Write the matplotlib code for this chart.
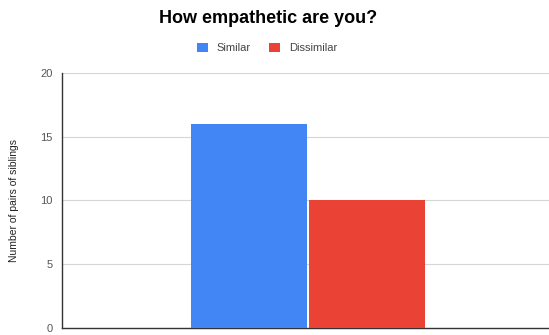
import matplotlib
matplotlib.use("Agg")
import matplotlib.pyplot as plt
import numpy as np

plt.rcParams["font.family"] = ["Liberation Sans", "DejaVu Sans"]

# counts of sibling pairs per group
series_names = ["Similar", "Dissimilar"]
series_values = [16, 10]
series_colors = ["#4285F4", "#EA4335"]
y_ticks = [0, 5, 10, 15, 20]


def main():
    fig = plt.figure(figsize=(5.49, 3.35), dpi=100)
    # plot area runs slightly past the right edge, like the gridlines do
    ax = fig.add_axes([0.113, 0.021, 0.896, 0.761])

    bar_w = 0.24
    offsets = (np.arange(len(series_values)) - (len(series_values) - 1) / 2) * bar_w
    handles = []
    for name, val, color, off in zip(series_names, series_values, series_colors, offsets):
        b = ax.bar(off, val, width=bar_w - 0.003, color=color, label=name, zorder=3)
        handles.append(b)

    ax.set_xlim(-0.5, 0.5)
    ax.set_ylim(0, 20)
    ax.set_yticks(y_ticks)
    ax.set_xticks([])
    ax.tick_params(axis="y", length=0, labelsize=8, labelcolor="#555555", pad=7)
    ax.grid(axis="y", color="#d6d6d6", linewidth=0.8, zorder=0)

    for side in ["top", "right"]:
        ax.spines[side].set_visible(False)
    ax.spines["left"].set_color("#333333")
    ax.spines["bottom"].set_color("#333333")
    ax.spines["left"].set_linewidth(1.0)
    ax.spines["bottom"].set_linewidth(1.0)

    ax.set_ylabel("Number of pairs of siblings", fontsize=7.5, color="#222222", labelpad=15)

    fig.text(0.488, 0.945, "How empathetic are you?", ha="center", va="center",
             fontsize=13, fontweight="bold", color="#000000")

    fig.legend(handles=handles, loc="center", bbox_to_anchor=(0.486, 0.857), ncol=2,
               frameon=False, fontsize=8, labelcolor="#444444",
               handlelength=1.0, handleheight=1.0, handletextpad=0.8, columnspacing=1.6)

    fig.savefig("out.png", dpi=100)
    plt.close(fig)


if __name__ == "__main__":
    main()
